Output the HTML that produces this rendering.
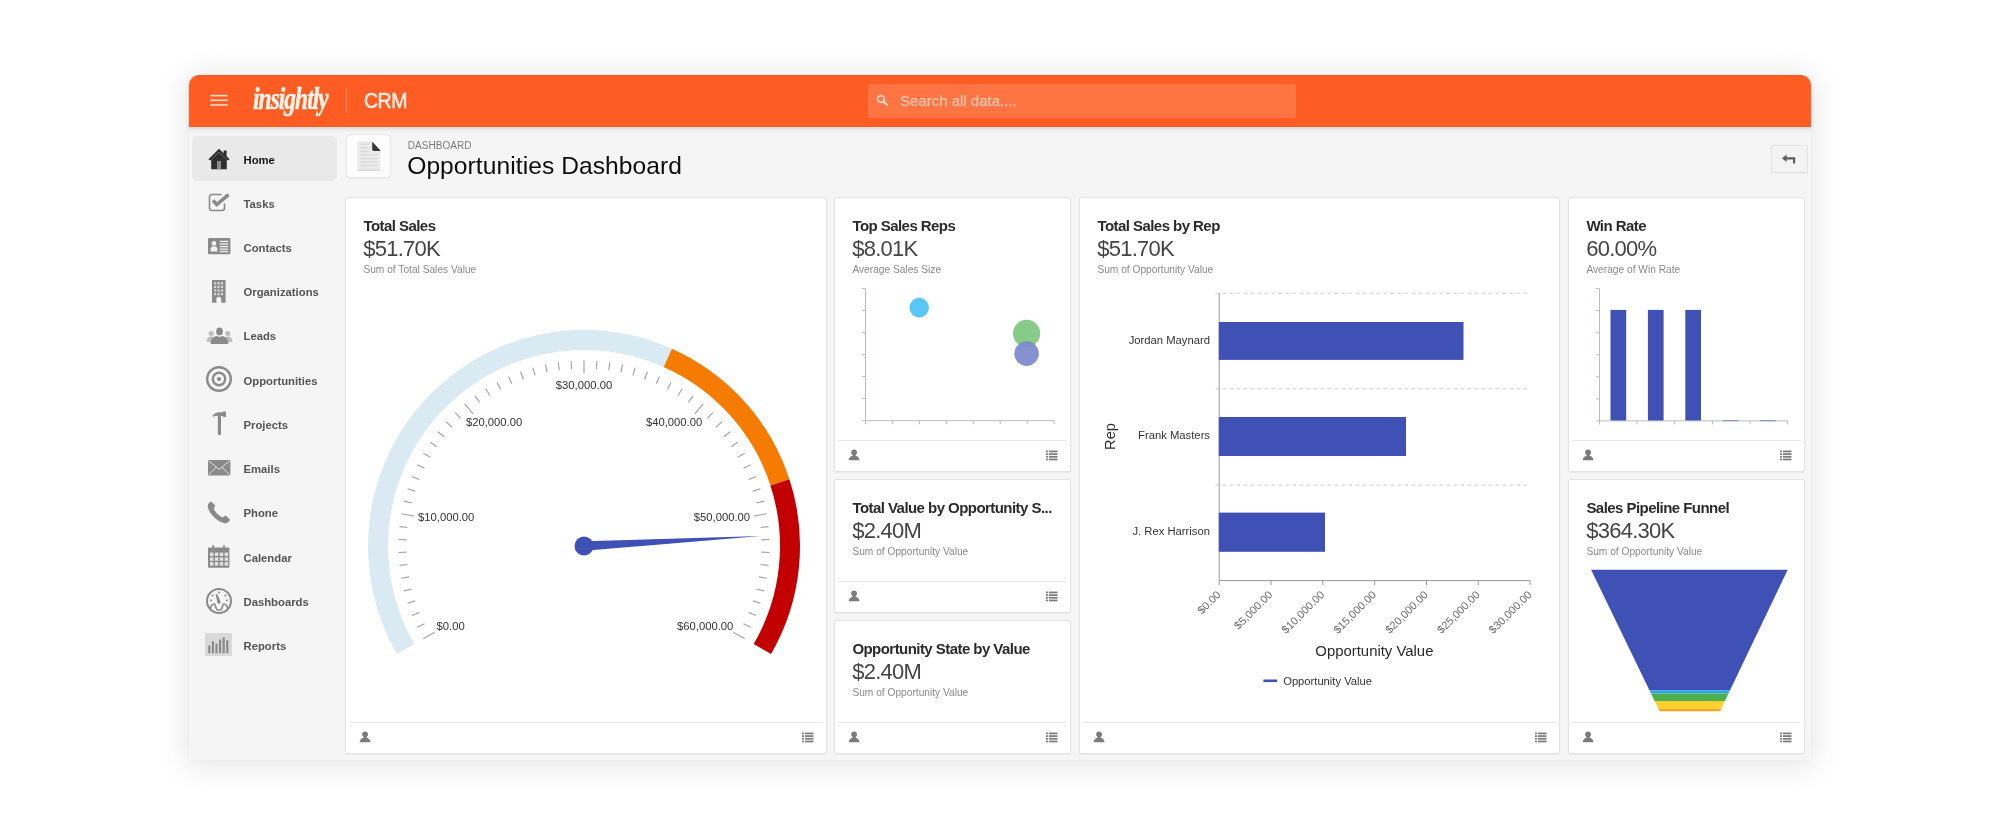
<!DOCTYPE html>
<html lang="en"><head><meta charset="utf-8"><title>Opportunities Dashboard</title>
<style>
*{box-sizing:border-box;margin:0;padding:0}
html,body{width:2000px;height:833px;background:#fff;overflow:hidden}
body{font-family:"Liberation Sans",sans-serif;position:relative;color:#333}
.abs{position:absolute}
#frame{position:absolute;left:189px;top:75px;width:1622px;height:685px;background:#f5f5f5;border-radius:10px 10px 2px 2px;box-shadow:0 3px 30px 2px rgba(0,0,0,.115),0 0 4px rgba(0,0,0,.04)}
#hdr{position:absolute;left:0;top:0;width:1622px;height:52px;background:#fd5c22;border-radius:10px 10px 0 0;box-shadow:0 2px 4px rgba(0,0,0,.13)}
.card{position:absolute;background:#fff;border:1px solid #e3e3e3;border-radius:2px;box-shadow:0 1px 1px rgba(0,0,0,.04)}
.ct{position:absolute;left:17.4px;top:19.3px;font-weight:bold;font-size:15px;letter-spacing:-.55px;color:#2b2b2b;white-space:nowrap;line-height:18px}
.cv{position:absolute;left:17.2px;top:38.8px;font-size:22px;color:#444;white-space:nowrap;line-height:24px;letter-spacing:-.75px}
.cs{position:absolute;left:17.4px;top:66.4px;font-size:10.2px;color:#8a8a8a;white-space:nowrap;line-height:12px}
.fl{position:absolute;left:3px;right:3px;bottom:30px;height:1px;background:#e8e8e8}
.fp{position:absolute;left:12.7px;bottom:10.5px;width:12.2px;height:11.7px}
.fm{position:absolute;right:12.9px;bottom:10.3px;width:11.5px;height:10.9px}
.nav{position:absolute;left:54px;font-weight:bold;font-size:11.3px;color:#555;line-height:14px;white-space:nowrap}
.ni{position:absolute}
svg{display:block;overflow:visible}
svg text{font-family:"Liberation Sans",sans-serif}
</style></head><body><div id="wrap" style="position:absolute;left:0;top:0;width:2000px;height:833px;will-change:transform">
<div id="frame"><div id="hdr"></div></div>
<svg class="abs" style="left:210px;top:94px" width="18" height="13" viewBox="0 0 18 13"><g stroke="#ffd9c8" stroke-width="1.6"><line x1="0" y1="1.6" x2="18" y2="1.6"/><line x1="0" y1="6.3" x2="18" y2="6.3"/><line x1="0" y1="11" x2="18" y2="11"/></g></svg>
<div class="abs" id="logo" style="left:253px;top:84px;font-family:'Liberation Serif',serif;font-style:italic;font-weight:bold;font-size:27px;line-height:30px;color:#fff3ea;letter-spacing:-1.1px;white-space:nowrap;transform:translateY(-.6px) scale(.868,1.13);transform-origin:0 50%;-webkit-text-stroke:.45px #fff3ea">insightly</div>
<div class="abs" style="left:346px;top:88px;width:1px;height:25px;background:rgba(255,255,255,.28)"></div>
<div class="abs" id="crm" style="left:364px;top:89px;font-size:22px;line-height:24px;color:#ffeee4;letter-spacing:-.5px;white-space:nowrap;-webkit-text-stroke:.6px #ffeee4;transform:scaleX(.885);transform-origin:0 0">CRM</div>
<div class="abs" style="left:868px;top:84px;width:428px;height:34px;background:#fe7442;border-radius:2px"></div>
<svg class="abs" style="left:876px;top:94.3px" width="13" height="13" viewBox="0 0 13 13"><circle cx="5" cy="5" r="3.4" fill="none" stroke="#ffd6c4" stroke-width="1.8"/><line x1="7.6" y1="7.6" x2="11" y2="11" stroke="#ffd6c4" stroke-width="2.2" stroke-linecap="round"/></svg>
<div class="abs" id="srch" style="left:900px;top:92px;font-size:15px;line-height:18px;color:#ffc6ad;-webkit-text-stroke:.25px #ffc6ad;white-space:nowrap">Search all data....</div>
<div class="abs" style="left:192px;top:136px;width:145px;height:44.5px;background:#e9e9e9;border-radius:5px"></div>
<div class="nav" style="left:243.5px;top:152.8px;color:#151515">Home</div>
<div class="nav" style="left:243.5px;top:196.7px;color:#555">Tasks</div>
<div class="nav" style="left:243.5px;top:241.3px;color:#555">Contacts</div>
<div class="nav" style="left:243.5px;top:285.2px;color:#555">Organizations</div>
<div class="nav" style="left:243.5px;top:329.4px;color:#555">Leads</div>
<div class="nav" style="left:243.5px;top:373.7px;color:#555">Opportunities</div>
<div class="nav" style="left:243.5px;top:418.0px;color:#555">Projects</div>
<div class="nav" style="left:243.5px;top:461.9px;color:#555">Emails</div>
<div class="nav" style="left:243.5px;top:506.2px;color:#555">Phone</div>
<div class="nav" style="left:243.5px;top:550.7px;color:#555">Calendar</div>
<div class="nav" style="left:243.5px;top:594.9px;color:#555">Dashboards</div>
<div class="nav" style="left:243.5px;top:639.0px;color:#555">Reports</div>
<svg class="ni" style="left:208px;top:148px" width="22" height="22" viewBox="0 0 22 22"><path d="M11 .8 L.4 11.2 L2.2 12.6 L11 4.2 L19.8 12.6 L21.6 11.2 L18.6 8.2 V2.6 H15.6 V5.3 Z" fill="#2e2e2e"/><path d="M3.2 11.6 L11 4.6 L18.8 11.6 V21.2 H3.2 Z" fill="#2e2e2e"/><rect x="9" y="13" width="4" height="8.2" fill="#8b8b8b"/></svg>
<svg class="ni" style="left:208px;top:192px" width="23" height="20" viewBox="0 0 23 20"><path d="M13.5 2.5 H4 a2.5 2.5 0 0 0 -2.5 2.5 V16 a2.5 2.5 0 0 0 2.5 2.5 H14 a2.5 2.5 0 0 0 2.5 -2.5 V11.5" fill="none" stroke="#8a8a8a" stroke-width="1.6"/><path d="M5 8.3 L8.8 12.5 L20.5 2.6" fill="none" stroke="#8a8a8a" stroke-width="3.5" stroke-linejoin="miter"/></svg>
<svg class="ni" style="left:208px;top:238px" width="23" height="17" viewBox="0 0 23 17"><rect x="0" y="0" width="22.4" height="16.2" rx="1" fill="#8a8a8a"/><circle cx="6" cy="5.4" r="2.3" fill="#f1f1f1"/><path d="M2.6 13.6 v-2.4 a3.4 3 0 0 1 6.8 0 v2.4 z" fill="#f1f1f1"/><g stroke="#f1f1f1" stroke-width="1.3"><line x1="11.8" y1="3.4" x2="20.2" y2="3.4"/><line x1="11.8" y1="6" x2="20.2" y2="6"/><line x1="11.8" y1="8.6" x2="20.2" y2="8.6"/><line x1="11.8" y1="11.2" x2="20.2" y2="11.2"/><line x1="11.8" y1="13.6" x2="20.2" y2="13.6"/></g></svg>
<svg class="ni" style="left:212px;top:279.5px" width="14" height="23" viewBox="0 0 14 23"><path d="M0 0 H13.6 V22.8 H9.2 V18 L6.8 16.4 L4.4 18 V22.8 H0 Z" fill="#8a8a8a"/><rect x="2.2" y="2.2" width="2" height="2.2" fill="#dcdcdc"/><rect x="5.6" y="2.2" width="2" height="2.2" fill="#dcdcdc"/><rect x="9.0" y="2.2" width="2" height="2.2" fill="#dcdcdc"/><rect x="2.2" y="5.800000000000001" width="2" height="2.2" fill="#dcdcdc"/><rect x="5.6" y="5.800000000000001" width="2" height="2.2" fill="#dcdcdc"/><rect x="9.0" y="5.800000000000001" width="2" height="2.2" fill="#dcdcdc"/><rect x="2.2" y="9.4" width="2" height="2.2" fill="#dcdcdc"/><rect x="5.6" y="9.4" width="2" height="2.2" fill="#dcdcdc"/><rect x="9.0" y="9.4" width="2" height="2.2" fill="#dcdcdc"/><rect x="2.2" y="13.0" width="2" height="2.2" fill="#dcdcdc"/><rect x="5.6" y="13.0" width="2" height="2.2" fill="#dcdcdc"/><rect x="9.0" y="13.0" width="2" height="2.2" fill="#dcdcdc"/></svg>
<svg class="ni" style="left:205.5px;top:326.5px" width="27" height="18" viewBox="0 0 27 18"><g fill="#bdbdbd"><circle cx="5.2" cy="6.4" r="2.5"/><path d="M.6 15 c0-4 2-5.6 4.6-5.6 s4.6 1.6 4.6 5.6 z"/><circle cx="21.8" cy="6.4" r="2.5"/><path d="M17.2 15 c0-4 2-5.6 4.6-5.6 s4.6 1.6 4.6 5.6 z"/></g><g fill="#8a8a8a"><ellipse cx="13.5" cy="4.4" rx="3.3" ry="3.9"/><path d="M4.6 17 c0-5.4 3.4-7.4 6-8 l2.9 1 l2.9-1 c2.6 .6 6 2.6 6 8 z"/></g></svg>
<svg class="ni" style="left:204.8px;top:365.4px" width="28" height="28" viewBox="0 0 28 28"><circle cx="14" cy="14" r="11.8" fill="none" stroke="#8a8a8a" stroke-width="2.4"/><circle cx="14" cy="14" r="6.2" fill="none" stroke="#8a8a8a" stroke-width="2.4"/><circle cx="14" cy="14" r="2.1" fill="#8a8a8a"/></svg>
<svg class="ni" style="left:212px;top:411px" width="15" height="25" viewBox="0 0 15 25"><path d="M.6 4.6 C2.4 2 5.2 1 7.6 1.2 H11 V.4 H14 V6 H11 V5 H9 V22.6 a1.6 1.6 0 0 1 -3.2 0 V5 C4.4 4.6 2.6 5 1.4 6 Z" fill="#8a8a8a"/></svg>
<svg class="ni" style="left:208px;top:460px" width="23" height="16" viewBox="0 0 23 16"><rect x="0" y="0" width="22.4" height="15.4" rx="1" fill="#8a8a8a"/><path d="M.8 1 L11.2 9.4 L21.6 1 M.8 14.6 L8.4 7.4 M21.6 14.6 L14 7.4" fill="none" stroke="#e2e2e2" stroke-width="1"/></svg>
<svg class="ni" style="left:207px;top:500.5px" width="24" height="23" viewBox="0 0 24 23"><path d="M4.2 .6 C2 1.6 .4 3.4 .8 6 C2 12.4 9.6 20.4 17.4 22.2 C20 22.6 22 21 23.2 18.8 L18.6 14.6 L15.4 16.6 C11.6 14.6 8.4 11.2 6.6 7.8 L8.4 4.8 Z" fill="#8a8a8a"/></svg>
<svg class="ni" style="left:208px;top:544.5px" width="22" height="23" viewBox="0 0 22 23"><rect x="0" y="2.6" width="21.4" height="20.2" rx="1" fill="#8a8a8a"/><rect x="4.4" y="0" width="1.6" height="4.4" fill="#8a8a8a"/><rect x="15.2" y="0" width="1.6" height="4.4" fill="#8a8a8a"/><rect x="2.0" y="7.6" width="3.4" height="3.4" fill="#e4e4e4"/><rect x="6.9" y="7.6" width="3.4" height="3.4" fill="#e4e4e4"/><rect x="11.8" y="7.6" width="3.4" height="3.4" fill="#e4e4e4"/><rect x="16.7" y="7.6" width="3.4" height="3.4" fill="#e4e4e4"/><rect x="2.0" y="12.4" width="3.4" height="3.4" fill="#e4e4e4"/><rect x="6.9" y="12.4" width="3.4" height="3.4" fill="#e4e4e4"/><rect x="11.8" y="12.4" width="3.4" height="3.4" fill="#e4e4e4"/><rect x="16.7" y="12.4" width="3.4" height="3.4" fill="#e4e4e4"/><rect x="2.0" y="17.2" width="3.4" height="3.4" fill="#e4e4e4"/><rect x="6.9" y="17.2" width="3.4" height="3.4" fill="#e4e4e4"/><rect x="11.8" y="17.2" width="3.4" height="3.4" fill="#e4e4e4"/><rect x="16.7" y="17.2" width="3.4" height="3.4" fill="#e4e4e4"/></svg>
<svg class="ni" style="left:205px;top:586.6px" width="28" height="28" viewBox="0 0 28 28"><circle cx="14" cy="14" r="12" fill="none" stroke="#8a8a8a" stroke-width="2"/><path d="M5.4 22.4 C5.2 19.4 7 17 9.6 17 L11.4 21.6 C11.6 22.4 12.4 23 13.2 23 H14.8 C15.6 23 16.4 22.4 16.6 21.6 L18.4 17 C21 17 22.8 19.4 22.6 22.4" fill="none" stroke="#8a8a8a" stroke-width="1.6"/><path d="M10.6 7.6 L12.2 7 L15.6 14.8 a1.8 1.8 0 0 1 -3 1.4 Z" fill="#8a8a8a"/><g fill="#8a8a8a"><circle cx="6" cy="13.4" r="1"/><circle cx="7.6" cy="8.6" r="1"/><circle cx="14" cy="5.4" r="1"/><circle cx="20.4" cy="8.6" r="1"/><circle cx="22" cy="13.4" r="1"/></g></svg>
<svg class="ni" style="left:205px;top:633px" width="27" height="23" viewBox="0 0 27 23"><rect width="27" height="23" fill="#d9d9d9"/><g fill="#8a8a8a"><rect x="3.2" y="12.6" width="2.2" height="7.6"/><rect x="6.8" y="8.2" width="2.2" height="12"/><rect x="10.4" y="10.8" width="2.2" height="9.4"/><rect x="14" y="6.6" width="2.2" height="13.6"/><rect x="17.6" y="4.4" width="2.2" height="15.8"/><rect x="21.2" y="7.2" width="2.2" height="13"/></g></svg>
<div class="abs" style="left:346px;top:134px;width:45px;height:44px;background:#fdfdfd;border:1px solid #e7e7e7;border-radius:4px;box-shadow:0 1px 1px rgba(0,0,0,.05)"></div>
<svg class="abs" style="left:356px;top:140px" width="26" height="32" viewBox="0 0 26 32"><path d="M1.2 1.2 H16 L24.3 10.4 V30 H1.2 Z" fill="#ebebeb"/><g stroke="#d6d6d6" stroke-width="1.1"><line x1="4.2" y1="4.1" x2="12.6" y2="4.1"/><line x1="4.2" y1="7.8" x2="12.6" y2="7.8"/><line x1="4.2" y1="11.5" x2="12.6" y2="11.5"/><line x1="4.2" y1="14.9" x2="21.3" y2="14.9"/><line x1="4.2" y1="18.6" x2="21.3" y2="18.6"/><line x1="4.2" y1="22" x2="21.3" y2="22"/><line x1="4.2" y1="25.3" x2="21.3" y2="25.3"/></g><path d="M16.2 1.4 L24.8 10.9 H17.8 C16.8 10.9 16.2 10.3 16.2 9.3 Z" fill="#3a3a3a"/><path d="M1.6 30.2 H24" stroke="#cdcdcd" stroke-width="1.1"/></svg>
<div class="abs" id="dsh" style="left:407.7px;top:139.5px;font-size:10px;line-height:12px;color:#7a7a7a;white-space:nowrap;letter-spacing:.06px">DASHBOARD</div>
<div class="abs" id="ttl" style="left:407.2px;top:150.5px;font-size:24.6px;line-height:30px;color:#0c0c0c;white-space:nowrap;letter-spacing:.06px">Opportunities Dashboard</div>
<div class="abs" style="left:1770.5px;top:144.5px;width:37px;height:28px;background:#f3f3f3;border:1px solid #e2e2e2;border-radius:2px;box-shadow:0 1px 1px rgba(0,0,0,.04)"></div>
<svg class="abs" style="left:1782px;top:153.5px" width="14" height="11" viewBox="0 0 14 11"><path d="M0 4.2 L4.6 .4 V3.2 H13.2 V9.6 H11 V5.4 H4.6 V8 Z" fill="#5e5e5e"/></svg>
<div class="card" style="left:345px;top:197px;width:482px;height:557px"><div class="ct">Total Sales</div><div class="cv">$51.70K</div><div class="cs">Sum of Total Sales Value</div><div class="fl"></div><svg class="fp" viewBox="0 0 12 12"><path d="M6 .4 C7.9 .4 9 1.7 9 3.3 C9 4.6 8.4 5.6 7.6 6.2 V7 C9.6 7.7 11.4 8.6 11.6 11.6 H.4 C.6 8.6 2.4 7.7 4.4 7 V6.2 C3.6 5.6 3 4.6 3 3.3 C3 1.7 4.1 .4 6 .4 Z" fill="#7b7b7b"/></svg><svg class="fm" viewBox="0 0 12 11"><g fill="#7b7b7b"><rect x="0" y=".4" width="2" height="1.8"/><rect x="3" y=".4" width="9" height="1.8"/><rect x="0" y="3.2" width="2" height="1.8"/><rect x="3" y="3.2" width="9" height="1.8"/><rect x="0" y="6" width="2" height="1.8"/><rect x="3" y="6" width="9" height="1.8"/><rect x="0" y="8.8" width="2" height="1.8"/><rect x="3" y="8.8" width="9" height="1.8"/></g></svg></div>
<div class="card" style="left:834px;top:197px;width:237px;height:275px"><div class="ct">Top Sales Reps</div><div class="cv">$8.01K</div><div class="cs">Average Sales Size</div><div class="fl"></div><svg class="fp" viewBox="0 0 12 12"><path d="M6 .4 C7.9 .4 9 1.7 9 3.3 C9 4.6 8.4 5.6 7.6 6.2 V7 C9.6 7.7 11.4 8.6 11.6 11.6 H.4 C.6 8.6 2.4 7.7 4.4 7 V6.2 C3.6 5.6 3 4.6 3 3.3 C3 1.7 4.1 .4 6 .4 Z" fill="#7b7b7b"/></svg><svg class="fm" viewBox="0 0 12 11"><g fill="#7b7b7b"><rect x="0" y=".4" width="2" height="1.8"/><rect x="3" y=".4" width="9" height="1.8"/><rect x="0" y="3.2" width="2" height="1.8"/><rect x="3" y="3.2" width="9" height="1.8"/><rect x="0" y="6" width="2" height="1.8"/><rect x="3" y="6" width="9" height="1.8"/><rect x="0" y="8.8" width="2" height="1.8"/><rect x="3" y="8.8" width="9" height="1.8"/></g></svg></div>
<div class="card" style="left:834px;top:479px;width:237px;height:134px"><div class="ct">Total Value by Opportunity S...</div><div class="cv">$2.40M</div><div class="cs">Sum of Opportunity Value</div><div class="fl"></div><svg class="fp" viewBox="0 0 12 12"><path d="M6 .4 C7.9 .4 9 1.7 9 3.3 C9 4.6 8.4 5.6 7.6 6.2 V7 C9.6 7.7 11.4 8.6 11.6 11.6 H.4 C.6 8.6 2.4 7.7 4.4 7 V6.2 C3.6 5.6 3 4.6 3 3.3 C3 1.7 4.1 .4 6 .4 Z" fill="#7b7b7b"/></svg><svg class="fm" viewBox="0 0 12 11"><g fill="#7b7b7b"><rect x="0" y=".4" width="2" height="1.8"/><rect x="3" y=".4" width="9" height="1.8"/><rect x="0" y="3.2" width="2" height="1.8"/><rect x="3" y="3.2" width="9" height="1.8"/><rect x="0" y="6" width="2" height="1.8"/><rect x="3" y="6" width="9" height="1.8"/><rect x="0" y="8.8" width="2" height="1.8"/><rect x="3" y="8.8" width="9" height="1.8"/></g></svg></div>
<div class="card" style="left:834px;top:620px;width:237px;height:134px"><div class="ct">Opportunity State by Value</div><div class="cv">$2.40M</div><div class="cs">Sum of Opportunity Value</div><div class="fl"></div><svg class="fp" viewBox="0 0 12 12"><path d="M6 .4 C7.9 .4 9 1.7 9 3.3 C9 4.6 8.4 5.6 7.6 6.2 V7 C9.6 7.7 11.4 8.6 11.6 11.6 H.4 C.6 8.6 2.4 7.7 4.4 7 V6.2 C3.6 5.6 3 4.6 3 3.3 C3 1.7 4.1 .4 6 .4 Z" fill="#7b7b7b"/></svg><svg class="fm" viewBox="0 0 12 11"><g fill="#7b7b7b"><rect x="0" y=".4" width="2" height="1.8"/><rect x="3" y=".4" width="9" height="1.8"/><rect x="0" y="3.2" width="2" height="1.8"/><rect x="3" y="3.2" width="9" height="1.8"/><rect x="0" y="6" width="2" height="1.8"/><rect x="3" y="6" width="9" height="1.8"/><rect x="0" y="8.8" width="2" height="1.8"/><rect x="3" y="8.8" width="9" height="1.8"/></g></svg></div>
<div class="card" style="left:1079px;top:197px;width:481px;height:557px"><div class="ct">Total Sales by Rep</div><div class="cv">$51.70K</div><div class="cs">Sum of Opportunity Value</div><div class="fl"></div><svg class="fp" viewBox="0 0 12 12"><path d="M6 .4 C7.9 .4 9 1.7 9 3.3 C9 4.6 8.4 5.6 7.6 6.2 V7 C9.6 7.7 11.4 8.6 11.6 11.6 H.4 C.6 8.6 2.4 7.7 4.4 7 V6.2 C3.6 5.6 3 4.6 3 3.3 C3 1.7 4.1 .4 6 .4 Z" fill="#7b7b7b"/></svg><svg class="fm" viewBox="0 0 12 11"><g fill="#7b7b7b"><rect x="0" y=".4" width="2" height="1.8"/><rect x="3" y=".4" width="9" height="1.8"/><rect x="0" y="3.2" width="2" height="1.8"/><rect x="3" y="3.2" width="9" height="1.8"/><rect x="0" y="6" width="2" height="1.8"/><rect x="3" y="6" width="9" height="1.8"/><rect x="0" y="8.8" width="2" height="1.8"/><rect x="3" y="8.8" width="9" height="1.8"/></g></svg></div>
<div class="card" style="left:1568px;top:197px;width:237px;height:275px"><div class="ct">Win Rate</div><div class="cv">60.00%</div><div class="cs">Average of Win Rate</div><div class="fl"></div><svg class="fp" viewBox="0 0 12 12"><path d="M6 .4 C7.9 .4 9 1.7 9 3.3 C9 4.6 8.4 5.6 7.6 6.2 V7 C9.6 7.7 11.4 8.6 11.6 11.6 H.4 C.6 8.6 2.4 7.7 4.4 7 V6.2 C3.6 5.6 3 4.6 3 3.3 C3 1.7 4.1 .4 6 .4 Z" fill="#7b7b7b"/></svg><svg class="fm" viewBox="0 0 12 11"><g fill="#7b7b7b"><rect x="0" y=".4" width="2" height="1.8"/><rect x="3" y=".4" width="9" height="1.8"/><rect x="0" y="3.2" width="2" height="1.8"/><rect x="3" y="3.2" width="9" height="1.8"/><rect x="0" y="6" width="2" height="1.8"/><rect x="3" y="6" width="9" height="1.8"/><rect x="0" y="8.8" width="2" height="1.8"/><rect x="3" y="8.8" width="9" height="1.8"/></g></svg></div>
<div class="card" style="left:1568px;top:479px;width:237px;height:275px"><div class="ct">Sales Pipeline Funnel</div><div class="cv">$364.30K</div><div class="cs">Sum of Opportunity Value</div><div class="fl"></div><svg class="fp" viewBox="0 0 12 12"><path d="M6 .4 C7.9 .4 9 1.7 9 3.3 C9 4.6 8.4 5.6 7.6 6.2 V7 C9.6 7.7 11.4 8.6 11.6 11.6 H.4 C.6 8.6 2.4 7.7 4.4 7 V6.2 C3.6 5.6 3 4.6 3 3.3 C3 1.7 4.1 .4 6 .4 Z" fill="#7b7b7b"/></svg><svg class="fm" viewBox="0 0 12 11"><g fill="#7b7b7b"><rect x="0" y=".4" width="2" height="1.8"/><rect x="3" y=".4" width="9" height="1.8"/><rect x="0" y="3.2" width="2" height="1.8"/><rect x="3" y="3.2" width="9" height="1.8"/><rect x="0" y="6" width="2" height="1.8"/><rect x="3" y="6" width="9" height="1.8"/><rect x="0" y="8.8" width="2" height="1.8"/><rect x="3" y="8.8" width="9" height="1.8"/></g></svg></div>
<svg class="abs" style="left:0;top:0" width="2000" height="833" viewBox="0 0 2000 833">
<path d="M396.94 654.00 A216 216 0 0 1 671.86 348.67 L663.72 366.95 A196 196 0 0 0 414.26 644.00 Z" fill="#d9eaf3"/>
<path d="M671.86 348.67 A216 216 0 0 1 789.43 479.25 L770.41 485.43 A196 196 0 0 0 663.72 366.95 Z" fill="#f57c00"/>
<path d="M789.43 479.25 A216 216 0 0 1 771.06 654.00 L753.74 644.00 A196 196 0 0 0 770.41 485.43 Z" fill="#c20000"/>
<g stroke="#a3a3a3" stroke-width="1.15"><line x1="423.35" y1="638.75" x2="434.61" y2="632.25"/><line x1="417.27" y1="627.32" x2="424.46" y2="623.81"/><line x1="412.01" y1="615.49" x2="419.42" y2="612.49"/><line x1="407.58" y1="603.32" x2="415.19" y2="600.85"/><line x1="404.01" y1="590.88" x2="411.77" y2="588.94"/><line x1="401.32" y1="578.21" x2="409.20" y2="576.82"/><line x1="399.52" y1="565.39" x2="407.47" y2="564.55"/><line x1="398.61" y1="552.47" x2="406.61" y2="552.19"/><line x1="398.61" y1="539.53" x2="406.61" y2="539.81"/><line x1="399.52" y1="526.61" x2="407.47" y2="527.45"/><line x1="401.32" y1="513.79" x2="414.12" y2="516.05"/><line x1="404.01" y1="501.12" x2="411.77" y2="503.06"/><line x1="407.58" y1="488.68" x2="415.19" y2="491.15"/><line x1="412.01" y1="476.51" x2="419.42" y2="479.51"/><line x1="417.27" y1="464.68" x2="424.46" y2="468.19"/><line x1="423.35" y1="453.25" x2="430.28" y2="457.25"/><line x1="430.21" y1="442.27" x2="436.85" y2="446.74"/><line x1="437.82" y1="431.79" x2="444.13" y2="436.72"/><line x1="446.15" y1="421.88" x2="452.09" y2="427.23"/><line x1="455.14" y1="412.56" x2="460.70" y2="418.32"/><line x1="464.76" y1="403.90" x2="473.12" y2="413.86"/><line x1="474.97" y1="395.93" x2="479.67" y2="402.40"/><line x1="485.70" y1="388.69" x2="489.94" y2="395.47"/><line x1="496.91" y1="382.21" x2="500.67" y2="389.28"/><line x1="508.55" y1="376.54" x2="511.80" y2="383.85"/><line x1="520.56" y1="371.69" x2="523.29" y2="379.20"/><line x1="532.87" y1="367.69" x2="535.07" y2="375.38"/><line x1="545.43" y1="364.55" x2="547.10" y2="372.38"/><line x1="558.18" y1="362.31" x2="559.30" y2="370.23"/><line x1="571.06" y1="360.95" x2="571.62" y2="368.93"/><line x1="584.00" y1="360.50" x2="584.00" y2="373.50"/><line x1="596.94" y1="360.95" x2="596.38" y2="368.93"/><line x1="609.82" y1="362.31" x2="608.70" y2="370.23"/><line x1="622.57" y1="364.55" x2="620.90" y2="372.38"/><line x1="635.13" y1="367.69" x2="632.93" y2="375.38"/><line x1="647.44" y1="371.69" x2="644.71" y2="379.20"/><line x1="659.45" y1="376.54" x2="656.20" y2="383.85"/><line x1="671.09" y1="382.21" x2="667.33" y2="389.28"/><line x1="682.30" y1="388.69" x2="678.06" y2="395.47"/><line x1="693.03" y1="395.93" x2="688.33" y2="402.40"/><line x1="703.24" y1="403.90" x2="694.88" y2="413.86"/><line x1="712.86" y1="412.56" x2="707.30" y2="418.32"/><line x1="721.85" y1="421.88" x2="715.91" y2="427.23"/><line x1="730.18" y1="431.79" x2="723.87" y2="436.72"/><line x1="737.79" y1="442.27" x2="731.15" y2="446.74"/><line x1="744.65" y1="453.25" x2="737.72" y2="457.25"/><line x1="750.73" y1="464.68" x2="743.54" y2="468.19"/><line x1="755.99" y1="476.51" x2="748.58" y2="479.51"/><line x1="760.42" y1="488.68" x2="752.81" y2="491.15"/><line x1="763.99" y1="501.12" x2="756.23" y2="503.06"/><line x1="766.68" y1="513.79" x2="753.88" y2="516.05"/><line x1="768.48" y1="526.61" x2="760.53" y2="527.45"/><line x1="769.39" y1="539.53" x2="761.39" y2="539.81"/><line x1="769.39" y1="552.47" x2="761.39" y2="552.19"/><line x1="768.48" y1="565.39" x2="760.53" y2="564.55"/><line x1="766.68" y1="578.21" x2="758.80" y2="576.82"/><line x1="763.99" y1="590.88" x2="756.23" y2="588.94"/><line x1="760.42" y1="603.32" x2="752.81" y2="600.85"/><line x1="755.99" y1="615.49" x2="748.58" y2="612.49"/><line x1="750.73" y1="627.32" x2="743.54" y2="623.81"/><line x1="744.65" y1="638.75" x2="733.39" y2="632.25"/></g>
<text x="450.6" y="630.1" font-size="11.25" text-anchor="middle" fill="#333">$0.00</text>
<text x="446.2" y="520.6" font-size="11.25" text-anchor="middle" fill="#333">$10,000.00</text>
<text x="494.1" y="425.6" font-size="11.25" text-anchor="middle" fill="#333">$20,000.00</text>
<text x="584" y="388.7" font-size="11.25" text-anchor="middle" fill="#333">$30,000.00</text>
<text x="674.1" y="425.6" font-size="11.25" text-anchor="middle" fill="#333">$40,000.00</text>
<text x="721.9" y="520.6" font-size="11.25" text-anchor="middle" fill="#333">$50,000.00</text>
<text x="705.2" y="630.1" font-size="11.25" text-anchor="middle" fill="#333">$60,000.00</text>
<path d="M584.27 550.79 L760.72 536.12 L583.73 541.21 Z" fill="#3f51b5"/>
<circle cx="584" cy="546" r="9.5" fill="#3f51b5"/>
</svg>
<svg class="abs" style="left:0;top:0" width="2000" height="833" viewBox="0 0 2000 833">
<g stroke="#b6bfbd" stroke-width="1" fill="none"><path d="M865.5 288.5 V420.7 H1054.2"/>
<line x1="862" y1="288.5" x2="865.5" y2="288.5"/>
<line x1="862" y1="310.5" x2="865.5" y2="310.5"/>
<line x1="862" y1="332.6" x2="865.5" y2="332.6"/>
<line x1="862" y1="354.6" x2="865.5" y2="354.6"/>
<line x1="862" y1="376.6" x2="865.5" y2="376.6"/>
<line x1="862" y1="398.6" x2="865.5" y2="398.6"/>
<line x1="862" y1="420.7" x2="865.5" y2="420.7"/>
<line x1="865.5" y1="420.7" x2="865.5" y2="424.2"/>
<line x1="892.5" y1="420.7" x2="892.5" y2="424.2"/>
<line x1="919.4" y1="420.7" x2="919.4" y2="424.2"/>
<line x1="946.4" y1="420.7" x2="946.4" y2="424.2"/>
<line x1="973.3" y1="420.7" x2="973.3" y2="424.2"/>
<line x1="1000.2" y1="420.7" x2="1000.2" y2="424.2"/>
<line x1="1027.2" y1="420.7" x2="1027.2" y2="424.2"/>
<line x1="1054.2" y1="420.7" x2="1054.2" y2="424.2"/>
</g>
<circle cx="919.2" cy="307.6" r="9.8" fill="#4fc3f7" fill-opacity=".95"/>
<circle cx="1026.6" cy="333.4" r="13.6" fill="#81c784" fill-opacity=".95"/>
<circle cx="1026.6" cy="353.6" r="12.3" fill="#7986cb" fill-opacity=".9"/>
</svg>
<svg class="abs" style="left:0;top:0" width="2000" height="833" viewBox="0 0 2000 833">
<line x1="1215.5" y1="293.2" x2="1527" y2="293.2" stroke="#cdcdcd" stroke-width="1" stroke-dasharray="3.8 3.2"/>
<line x1="1215.5" y1="388.8" x2="1527" y2="388.8" stroke="#cdcdcd" stroke-width="1" stroke-dasharray="3.8 3.2"/>
<line x1="1215.5" y1="485.1" x2="1527" y2="485.1" stroke="#cdcdcd" stroke-width="1" stroke-dasharray="3.8 3.2"/>
<g stroke="#989898" stroke-width="1" fill="none"><path d="M1219.2 293 V580.6 H1530.2"/>
<line x1="1219.2" y1="580.6" x2="1219.2" y2="585"/>
<line x1="1271.0" y1="580.6" x2="1271.0" y2="585"/>
<line x1="1322.8" y1="580.6" x2="1322.8" y2="585"/>
<line x1="1374.7" y1="580.6" x2="1374.7" y2="585"/>
<line x1="1426.5" y1="580.6" x2="1426.5" y2="585"/>
<line x1="1478.3" y1="580.6" x2="1478.3" y2="585"/>
<line x1="1530.1" y1="580.6" x2="1530.1" y2="585"/>
</g>
<rect x="1218.8" y="322" width="244.7" height="37.9" fill="#3f51b5"/>
<text x="1210" y="343.8" font-size="11.25" text-anchor="end" fill="#333">Jordan Maynard</text>
<rect x="1218.8" y="417" width="187.2" height="39.0" fill="#3f51b5"/>
<text x="1210" y="439.4" font-size="11.25" text-anchor="end" fill="#333">Frank Masters</text>
<rect x="1218.8" y="512.6" width="106.2" height="39.2" fill="#3f51b5"/>
<text x="1210" y="535.1" font-size="11.25" text-anchor="end" fill="#333">J. Rex Harrison</text>
<text transform="translate(1221.4 595.4) rotate(-45)" font-size="11" text-anchor="end" fill="#6a6a6a">$0.00</text>
<text transform="translate(1273.2 595.4) rotate(-45)" font-size="11" text-anchor="end" fill="#6a6a6a">$5,000.00</text>
<text transform="translate(1325.0 595.4) rotate(-45)" font-size="11" text-anchor="end" fill="#6a6a6a">$10,000.00</text>
<text transform="translate(1376.9 595.4) rotate(-45)" font-size="11" text-anchor="end" fill="#6a6a6a">$15,000.00</text>
<text transform="translate(1428.7 595.4) rotate(-45)" font-size="11" text-anchor="end" fill="#6a6a6a">$20,000.00</text>
<text transform="translate(1480.5 595.4) rotate(-45)" font-size="11" text-anchor="end" fill="#6a6a6a">$25,000.00</text>
<text transform="translate(1532.3 595.4) rotate(-45)" font-size="11" text-anchor="end" fill="#6a6a6a">$30,000.00</text>
<text transform="translate(1115.2 436.5) rotate(-90)" font-size="14.6" text-anchor="middle" fill="#2c2c2c">Rep</text>
<text x="1374.4" y="656.4" font-size="14.9" text-anchor="middle" fill="#2c2c2c">Opportunity Value</text>
<line x1="1263.4" y1="680.8" x2="1277.2" y2="680.8" stroke="#3f51b5" stroke-width="2.6"/>
<text x="1283.2" y="684.8" font-size="11.2" fill="#333">Opportunity Value</text>
</svg>
<svg class="abs" style="left:0;top:0" width="2000" height="833" viewBox="0 0 2000 833">
<rect x="1610.5" y="309.9" width="15.7" height="111" fill="#3f51b5"/>
<rect x="1647.9" y="309.9" width="15.7" height="111" fill="#3f51b5"/>
<rect x="1685.3" y="309.9" width="15.7" height="111" fill="#3f51b5"/>
<g stroke="#b6bfbd" stroke-width="1" fill="none"><path d="M1599.5 288.5 V420.9 H1787.6"/>
<line x1="1596" y1="288.5" x2="1599.5" y2="288.5"/>
<line x1="1596" y1="310.6" x2="1599.5" y2="310.6"/>
<line x1="1596" y1="332.6" x2="1599.5" y2="332.6"/>
<line x1="1596" y1="354.7" x2="1599.5" y2="354.7"/>
<line x1="1596" y1="376.8" x2="1599.5" y2="376.8"/>
<line x1="1596" y1="398.9" x2="1599.5" y2="398.9"/>
<line x1="1596" y1="420.9" x2="1599.5" y2="420.9"/>
<line x1="1599.5" y1="420.9" x2="1599.5" y2="424.4"/>
<line x1="1637.1" y1="420.9" x2="1637.1" y2="424.4"/>
<line x1="1674.7" y1="420.9" x2="1674.7" y2="424.4"/>
<line x1="1712.4" y1="420.9" x2="1712.4" y2="424.4"/>
<line x1="1750.0" y1="420.9" x2="1750.0" y2="424.4"/>
<line x1="1787.6" y1="420.9" x2="1787.6" y2="424.4"/>
</g>
<rect x="1722.6" y="420" width="15.7" height="1.2" fill="#8e97c9"/><rect x="1760" y="420" width="15.7" height="1.2" fill="#8e97c9"/>
</svg>
<svg class="abs" style="left:0;top:0" width="2000" height="833" viewBox="0 0 2000 833">
<path d="M1591.10 569.8 L1787.70 569.8 L1730.05 690.2 L1649.43 690.2 Z" fill="#3f51b5"/>
<path d="M1649.43 690.2 L1730.05 690.2 L1728.43 693.6 L1651.07 693.6 Z" fill="#2aa7e6"/>
<path d="M1651.07 693.6 L1728.43 693.6 L1724.93 700.9 L1654.61 700.9 Z" fill="#4caf50"/>
<path d="M1654.61 700.9 L1724.93 700.9 L1721.05 709 L1658.53 709 Z" fill="#fdd02f"/>
<path d="M1658.53 709 L1721.05 709 L1720.00 711.2 L1659.60 711.2 Z" fill="#f5a623"/>
</svg>
</div></body></html>
